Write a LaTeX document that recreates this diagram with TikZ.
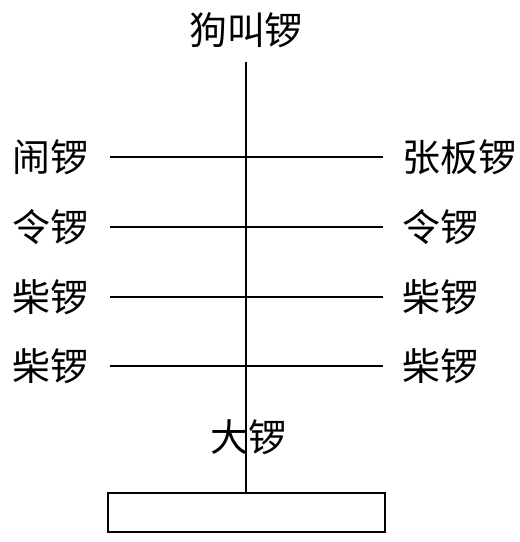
\documentclass[tikz,border=0pt]{standalone}
\usepackage{fontspec}
\setmainfont{Noto Sans CJK SC}
\usetikzlibrary{positioning}

\tikzset{
  gong/.style={inner sep=0pt, font=\fontsize{27pt}{32pt}\selectfont},
  stick/.style={line width=1.2pt}
}

\begin{document}
\begin{tikzpicture}
\useasboundingbox (0,0) rectangle (12.975,13.55);

% main pole and base
\node[gong] (dog) at (6.15,12.8) {狗叫锣};
\coordinate (top) at (6.15,12.0);
\draw[stick] (2.7,0.25) rectangle (9.625,1.225);
\coordinate (base) at (6.15,1.225);
\draw[stick] (top) -- (base);
\node[gong] (big) at (6.2,2.625) {大锣};

% cross bars
\coordinate (L1) at (2.75,9.625);  \coordinate (R1) at (9.575,9.625);
\coordinate (L2) at (2.75,7.875);  \coordinate (R2) at (9.575,7.875);
\coordinate (L3) at (2.75,6.125);  \coordinate (R3) at (9.575,6.125);
\coordinate (L4) at (2.75,4.4);    \coordinate (R4) at (9.575,4.4);
\draw[stick] (L1) -- (R1);
\draw[stick] (L2) -- (R2);
\draw[stick] (L3) -- (R3);
\draw[stick] (L4) -- (R4);

% left side
\node[gong, anchor=west] (nao) at (0.3,9.625) {闹锣};
\node[gong, anchor=west] (lingL) at (0.3,7.875) {令锣};
\node[gong, anchor=west] (chaiLa) at (0.3,6.125) {柴锣};
\node[gong, anchor=west] (chaiLb) at (0.3,4.4) {柴锣};

% right side
\node[gong, anchor=west] (zhang) at (10.05,9.625) {张板锣};
\node[gong, anchor=west] (lingR) at (10.05,7.875) {令锣};
\node[gong, anchor=west] (chaiRa) at (10.05,6.125) {柴锣};
\node[gong, anchor=west] (chaiRb) at (10.05,4.4) {柴锣};

\end{tikzpicture}
\end{document}
